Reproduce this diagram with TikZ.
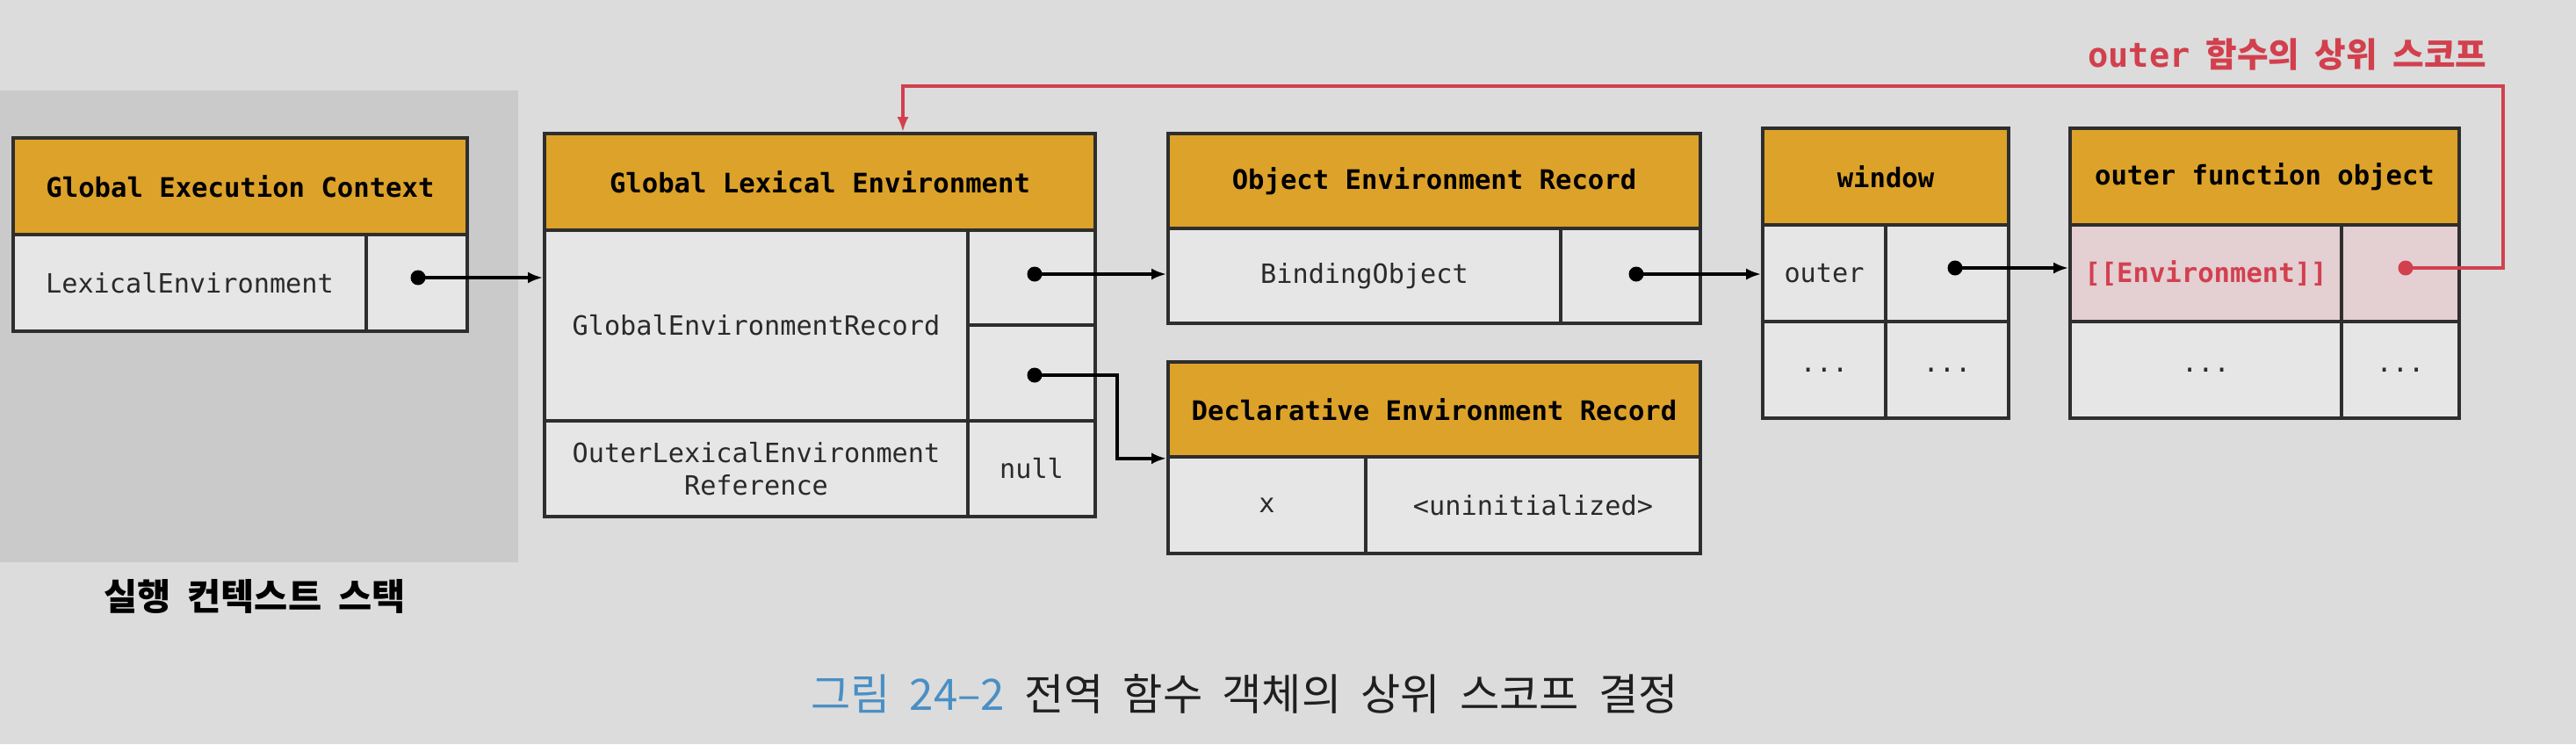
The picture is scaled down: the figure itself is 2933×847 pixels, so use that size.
\documentclass[tikz,border=0pt]{standalone}
\usepackage{fontspec}
\setmonofont{DejaVu Sans Mono}
\newfontfamily\kofont{Noto Sans CJK KR}[WordSpace=0.55]
\newfontfamily\kolabel{Noto Sans CJK KR}[WordSpace=2]
\usetikzlibrary{arrows.meta}
\definecolor{pagec}{HTML}{DCDCDC}
\definecolor{stackc}{HTML}{CACACA}
\definecolor{cellc}{HTML}{E6E6E6}
\definecolor{headc}{HTML}{DDA22A}
\definecolor{pinkc}{HTML}{E4CFD3}
\definecolor{linec}{HTML}{2E2E2E}
\definecolor{textc}{HTML}{2A2A2A}
\definecolor{redc}{HTML}{D2404E}
\definecolor{bluec}{HTML}{4A8FC4}

\begin{document}
\begin{tikzpicture}[x=0.01cm, y=-0.01cm, line width=1pt,
    >={Latex[length=1.7mm,width=1.3mm]},
    box/.style={draw=linec, fill=cellc, text=textc, inner sep=0pt, align=center,
      font=\ttfamily\fontsize{8.6}{10.5}\selectfont},
    head/.style={box, fill=headc, text=black,
      font=\ttfamily\bfseries\fontsize{8.7}{10.5}\selectfont},
    ptr/.style={circle, fill=black, inner sep=0pt, minimum size=0.17cm},
    link/.style={->, line width=1pt}]
  \useasboundingbox (0,0) rectangle (2933,847);
  \fill[pagec] (0,0) rectangle (2933,847);

  % execution context stack
  \fill[stackc] (0,103) rectangle (590,640);
  \node[font=\kofont\bfseries\fontsize{11.8}{14}\selectfont] (stack) at (290,679) {실행 컨텍스트 스택};
  \node[head, minimum width=5.17cm, minimum height=1.1cm] (gec) at (273.5,212) {Global Execution Context};
  \node[box, minimum width=4.02cm, minimum height=1.1cm] (gec-key) at (216,322) {LexicalEnvironment};
  \node[box, minimum width=1.15cm, minimum height=1.1cm] (gec-val) at (474.5,322) {};

  % global lexical environment
  \node[head, minimum width=6.27cm, minimum height=1.1cm] (gle) at (933.5,207) {Global Lexical Environment};
  \node[box, minimum width=4.82cm, minimum height=2.17cm] (gle-rec) at (861,370.5) {GlobalEnvironmentRecord};
  \node[box, minimum width=1.45cm, minimum height=1.08cm] (gle-obj) at (1174.5,316) {};
  \node[box, minimum width=1.45cm, minimum height=1.09cm] (gle-decl) at (1174.5,424.5) {};
  \node[box, minimum width=4.82cm, minimum height=1.09cm] (gle-outer) at (861,533.5) {OuterLexicalEnvironment\\Reference};
  \node[box, minimum width=1.45cm, minimum height=1.09cm] (gle-null) at (1174.5,533.5) {null};

  % environment records
  \node[head, minimum width=6.06cm, minimum height=1.08cm] (oer) at (1633,206) {Object Environment Record};
  \node[box, minimum width=4.47cm, minimum height=1.08cm] (oer-key) at (1553.5,314) {BindingObject};
  \node[box, minimum width=1.59cm, minimum height=1.08cm] (oer-val) at (1856.5,314) {};
  \node[head, minimum width=6.06cm, minimum height=1.08cm] (der) at (1633,466) {Declarative Environment Record};
  \node[box, minimum width=2.25cm, minimum height=1.1cm] (der-key) at (1442.5,575) {x};
  \node[box, minimum width=3.81cm, minimum height=1.1cm] (der-val) at (1745.5,575) {<uninitialized>};

  % window
  \node[head, minimum width=2.8cm, minimum height=1.1cm] (win) at (2147,201) {window};
  \node[box, minimum width=1.4cm, minimum height=1.1cm] (win-key) at (2077,311) {outer};
  \node[box, minimum width=1.4cm, minimum height=1.1cm] (win-val) at (2217,311) {};
  \node[box, minimum width=1.4cm, minimum height=1.1cm] (win-key2) at (2077,421) {...};
  \node[box, minimum width=1.4cm, minimum height=1.1cm] (win-val2) at (2217,421) {...};

  % outer function object
  \node[head, minimum width=4.43cm, minimum height=1.1cm] (fn) at (2578.5,201) {outer function object};
  \node[box, fill=pinkc, text=redc, font=\ttfamily\bfseries\fontsize{8.7}{10.5}\selectfont,
    minimum width=3.09cm, minimum height=1.1cm] (fn-env) at (2511.5,311) {[[Environment]]};
  \node[box, fill=pinkc, minimum width=1.34cm, minimum height=1.1cm] (fn-val) at (2733,311) {};
  \node[box, minimum width=3.09cm, minimum height=1.1cm] (fn-key2) at (2511.5,421) {...};
  \node[box, minimum width=1.34cm, minimum height=1.1cm] (fn-val2) at (2733,421) {...};

  % pointers
  \node[ptr] (gec-ptr) at (476,316) {};
  \node[ptr] (gle-obj-ptr) at (1178,312) {};
  \node[ptr] (gle-decl-ptr) at (1178,427) {};
  \node[ptr] (oer-ptr) at (1863,312) {};
  \node[ptr] (win-ptr) at (2226,305) {};
  \node[ptr, fill=redc] (fn-ptr) at (2739,305) {};

  \draw[link] (gec-ptr.center) -- (gec-ptr.center -| gle-rec.west);
  \draw[link] (gle-obj-ptr.center) -- (gle-obj-ptr.center -| oer-key.west);
  \draw[link] (gle-decl-ptr.center) -- ++(94,0) |- (der.south west);
  \draw[link] (oer-ptr.center) -- (oer-ptr.center -| win-key.west);
  \draw[link] (win-ptr.center) -- (win-ptr.center -| fn-env.west);

  % scope of outer
  \coordinate (scope-top) at (1028,98);
  \draw[link, redc] (fn-ptr.center) -- ++(111,0) |- (scope-top) -- (scope-top |- gle.north);
  \node[anchor=east, text=redc, font=\kolabel\bfseries\fontsize{11}{13}\selectfont] (scope-lbl) at (2845,62)
    {{\ttfamily\bfseries outer} 함수의 상위 스코프};

  \node[font=\kofont\fontsize{14}{16}\selectfont, text=black!88] (caption) at (1417,790)
    {\textcolor{bluec}{그림 24–2} 전역 함수 객체의 상위 스코프 결정};
\end{tikzpicture}
\end{document}
